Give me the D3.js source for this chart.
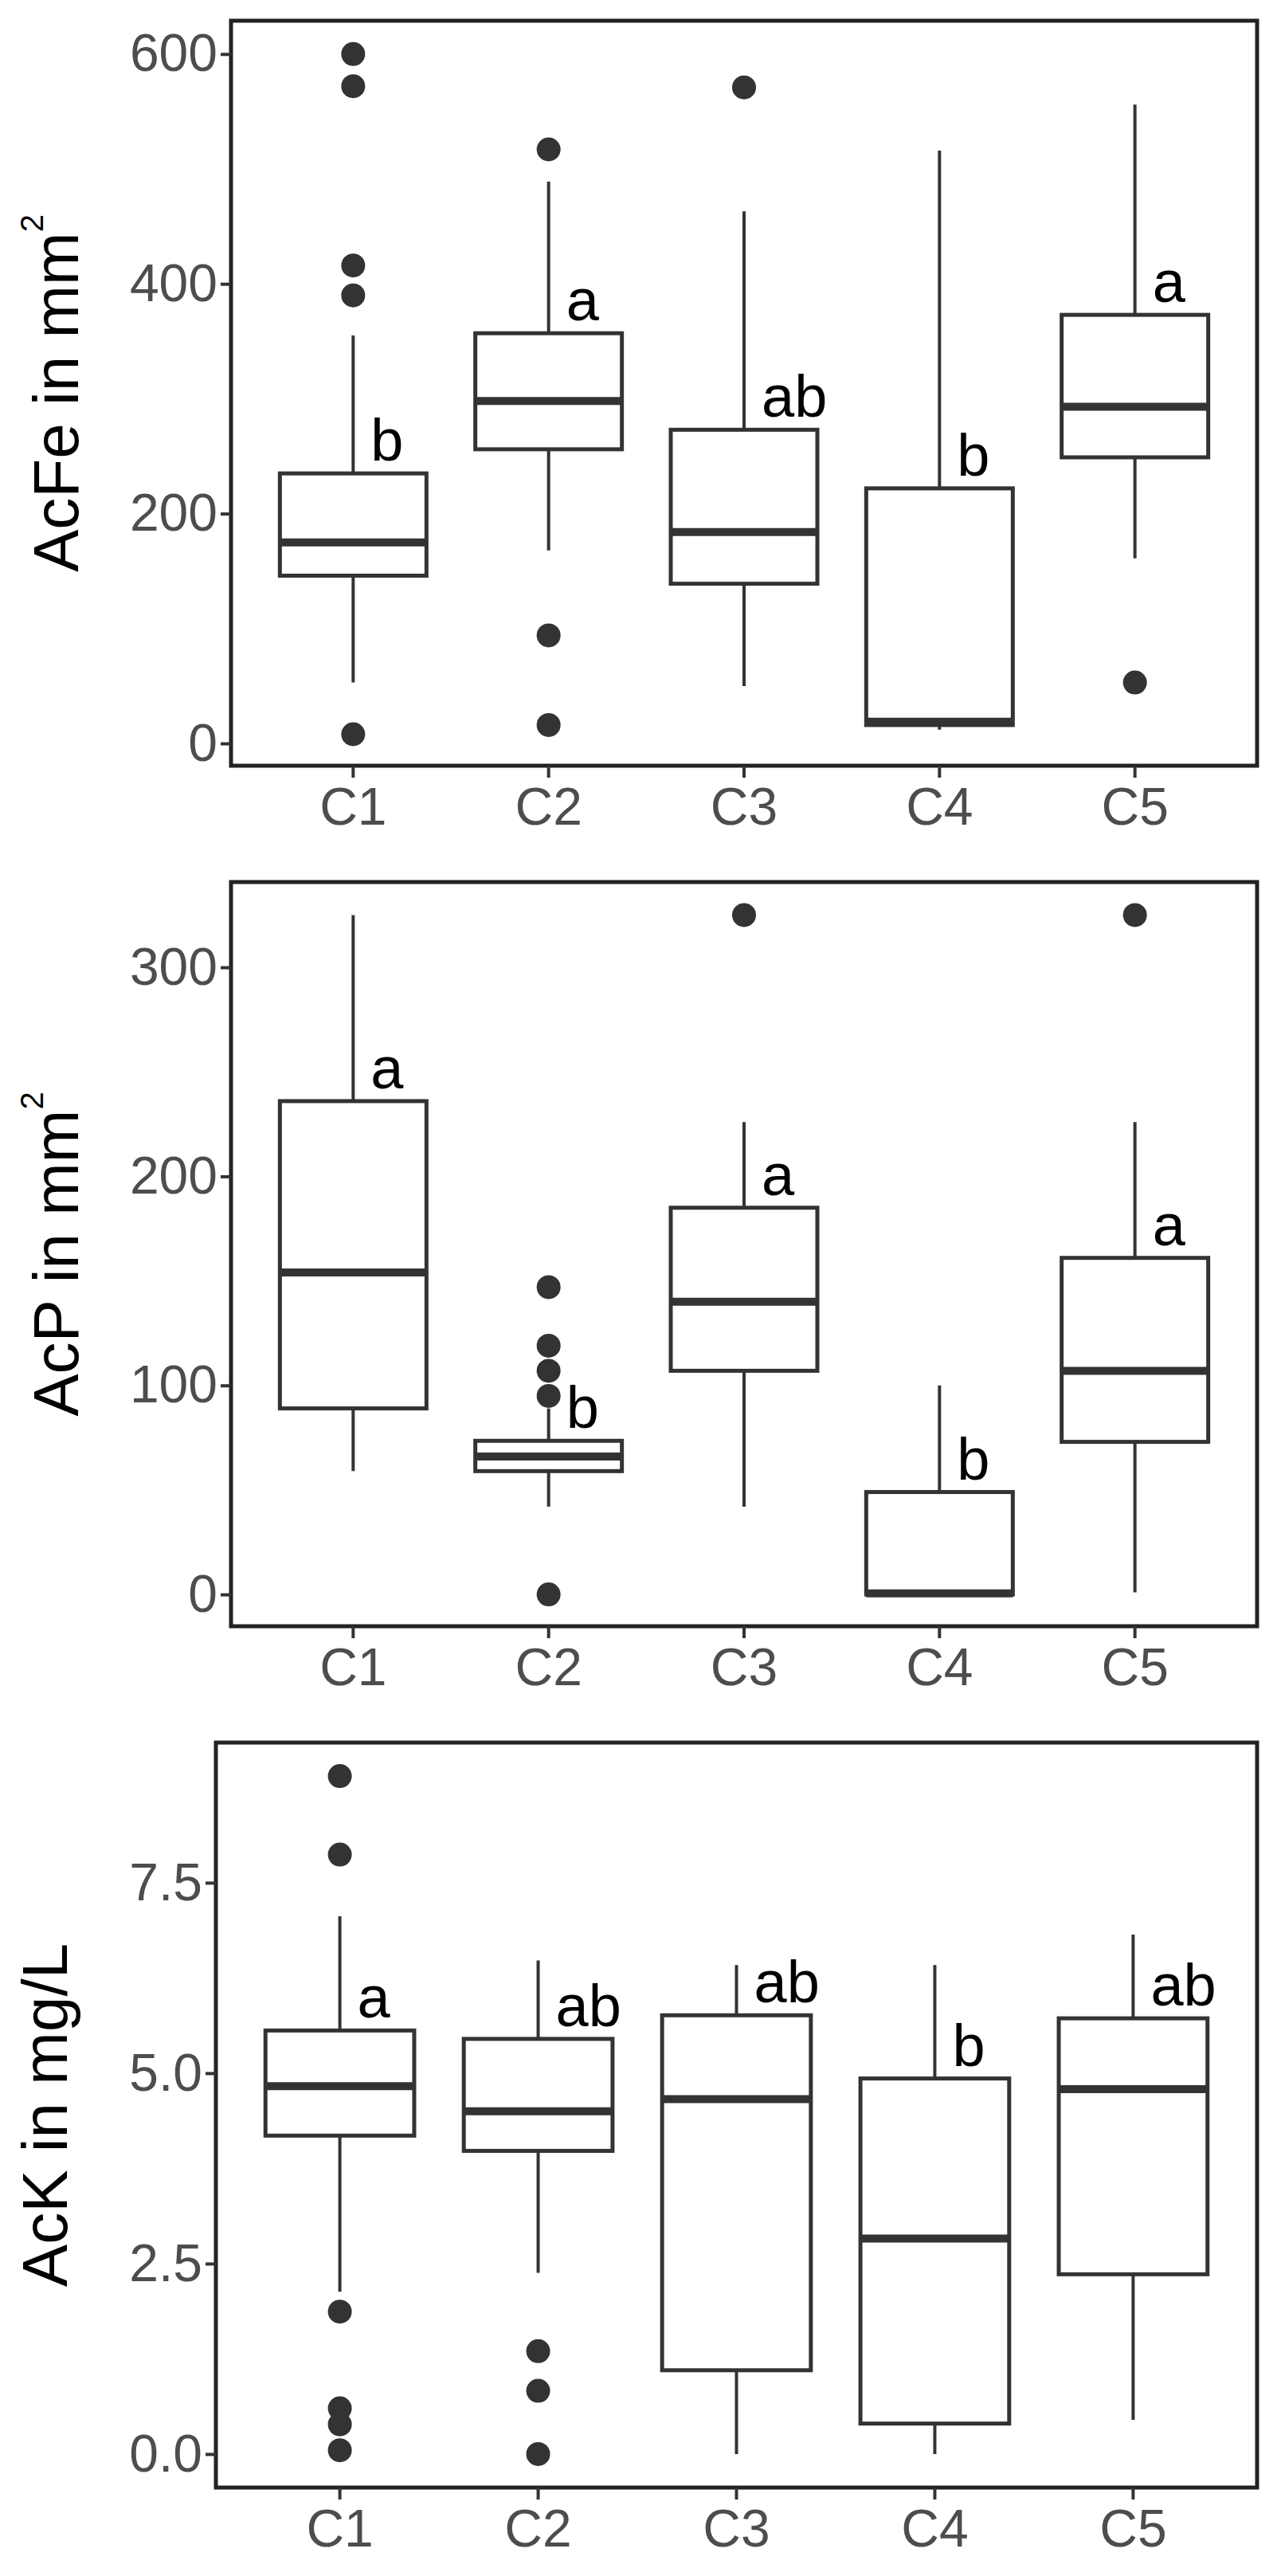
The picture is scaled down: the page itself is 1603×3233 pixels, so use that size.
<!DOCTYPE html>
<html lang="en">
<head>
  <meta charset="UTF-8">
  <title>Boxplots</title>
  <script src="https://cdn.jsdelivr.net/npm/d3@7.8.5/dist/d3.min.js"></script>
  <style>
    body { margin: 0; background: #fff; }
    svg { display: block; font-family: "Liberation Sans", Arial, sans-serif; }
  </style>
</head>
<body>
  <div id="box"></div>
  <script>
    const categories = ['C1', 'C2', 'C3', 'C4', 'C5']

    // AcFe
    const feLow = [53, 168, 50, 12, 161]
    const feQ1 = [146, 256, 139, 16, 249]
    const feMed = [175, 298, 184, 19, 293]
    const feQ3 = [235, 357, 273, 222, 373]
    const feHigh = [355, 489, 463, 516, 556]
    const feOut = [[600, 572, 416, 390, 8], [517, 94, 16], [571], [], [53]]
    const feLetters = ['b', 'a', 'ab', 'b', 'a']
    const feTicks = [0, 200, 400, 600]

    // AcP
    const pLow = [59, 42, 42, 0, 1]
    const pQ1 = [89, 59, 107, 0, 73]
    const pMed = [154, 66, 140, 0.5, 107]
    const pQ3 = [236, 73.5, 185, 49, 161]
    const pHigh = [325, 89, 226, 100, 226]
    const pOut = [[], [147, 119, 107, 95, 0], [325], [], [325]]
    const pLetters = ['a', 'b', 'a', 'b', 'a']
    const pTicks = [0, 100, 200, 300]

    // AcK
    const kLow = [2.13, 2.38, 0, 0, 0.45]
    const kQ1 = [4.18, 3.98, 1.1, 0.4, 2.36]
    const kMed = [4.83, 4.5, 4.66, 2.83, 4.79]
    const kQ3 = [5.56, 5.45, 5.76, 4.93, 5.72]
    const kHigh = [7.06, 6.48, 6.42, 6.42, 6.82]
    const kOut = [[8.9, 7.87, 1.87, 0.6, 0.39, 0.05], [1.35, 0.83, 0], [], [], []]
    const kLetters = ['a', 'ab', 'ab', 'b', 'ab']
    const kTicks = [0, 2.5, 5.0, 7.5]

    const width = 1603
    const height = 3233
    const svg = d3.select('#box').append('svg')
      .attr('width', width)
      .attr('height', height)

    const panels = [
      { low: feLow, q1: feQ1, med: feMed, q3: feQ3, high: feHigh, out: feOut, letters: feLetters,
        ticks: feTicks, fmt: d3.format('d'), domain: [-19.4, 629], top: 26, bottom: 961, left: 290,
        title: ['AcFe in mm', '2'], titleX: 70 },
      { low: pLow, q1: pQ1, med: pMed, q3: pQ3, high: pHigh, out: pOut, letters: pLetters,
        ticks: pTicks, fmt: d3.format('d'), domain: [-15.2, 340.8], top: 1107, bottom: 2041, left: 290,
        title: ['AcP in mm', '2'], titleX: 70 },
      { low: kLow, q1: kQ1, med: kMed, q3: kQ3, high: kHigh, out: kOut, letters: kLetters,
        ticks: kTicks, fmt: d3.format('.1f'), domain: [-0.44, 9.34], top: 2187, bottom: 3122, left: 271,
        title: ['AcK in mg/L'], titleX: 56 }
    ]
    const right = 1578

    panels.forEach(p => {
      const g = svg.append('g')
      const x = d3.scaleBand().domain(categories).range([p.left, right]).padding(0.25)
      const y = d3.scaleLinear().domain(p.domain).range([p.bottom, p.top])
      const bw = x.bandwidth()
      const cx = d => x(d) + bw / 2

      // frame
      g.append('rect')
        .attr('x', p.left).attr('y', p.top)
        .attr('width', right - p.left).attr('height', p.bottom - p.top)
        .attr('fill', 'none').attr('stroke', '#222').attr('stroke-width', 5)

      // axes
      const yAxis = g.append('g')
        .attr('transform', `translate(${p.left},0)`)
        .call(d3.axisLeft(y).tickValues(p.ticks).tickFormat(p.fmt).tickSize(13).tickPadding(4))
      const xAxis = g.append('g')
        .attr('transform', `translate(0,${p.bottom})`)
        .call(d3.axisBottom(x).tickSize(15).tickPadding(12))
      ;[xAxis, yAxis].forEach(a => {
        a.select('.domain').remove()
        a.selectAll('line').attr('stroke', '#333').attr('stroke-width', 4)
        a.selectAll('text').attr('fill', '#4d4d4d').attr('font-size', 66)
      })

      // whiskers
      g.selectAll('.wh').data(categories).join('line')
        .attr('x1', cx).attr('x2', cx)
        .attr('y1', (d, i) => y(p.low[i])).attr('y2', (d, i) => y(p.high[i]))
        .attr('stroke', '#333').attr('stroke-width', 4)

      // boxes
      g.selectAll('.bx').data(categories).join('rect')
        .attr('x', d => x(d))
        .attr('width', bw)
        .attr('y', (d, i) => y(p.q3[i]))
        .attr('height', (d, i) => Math.max(1, y(p.q1[i]) - y(p.q3[i])))
        .attr('fill', '#fff').attr('stroke', '#333').attr('stroke-width', 5)

      // medians
      g.selectAll('.md').data(categories).join('line')
        .attr('x1', d => x(d)).attr('x2', d => x(d) + bw)
        .attr('y1', (d, i) => y(p.med[i])).attr('y2', (d, i) => y(p.med[i]))
        .attr('stroke', '#333').attr('stroke-width', 10)

      // outliers
      categories.forEach((c, i) => {
        g.selectAll(null).data(p.out[i]).join('circle')
          .attr('cx', cx(c)).attr('cy', v => y(v)).attr('r', 15)
          .attr('fill', '#333')
      })

      // significance letters
      g.selectAll('.lt').data(categories).join('text')
        .attr('x', d => cx(d) + 22)
        .attr('y', (d, i) => y(p.q3[i]) - 16)
        .attr('font-size', 74)
        .attr('fill', '#000')
        .text((d, i) => p.letters[i])

      // y title
      const ty = (p.top + p.bottom) / 2
      const t = g.append('text')
        .attr('transform', `translate(${p.titleX},${ty}) rotate(-90)`)
        .attr('text-anchor', 'middle')
        .attr('font-size', 80)
        .attr('dominant-baseline', 'central')
        .attr('fill', '#000')
      t.append('tspan').text(p.title[0])
      if (p.title[1]) t.append('tspan').attr('font-size', 40).attr('dy', -30).text(p.title[1])
    })
  </script>
</body>
</html>
